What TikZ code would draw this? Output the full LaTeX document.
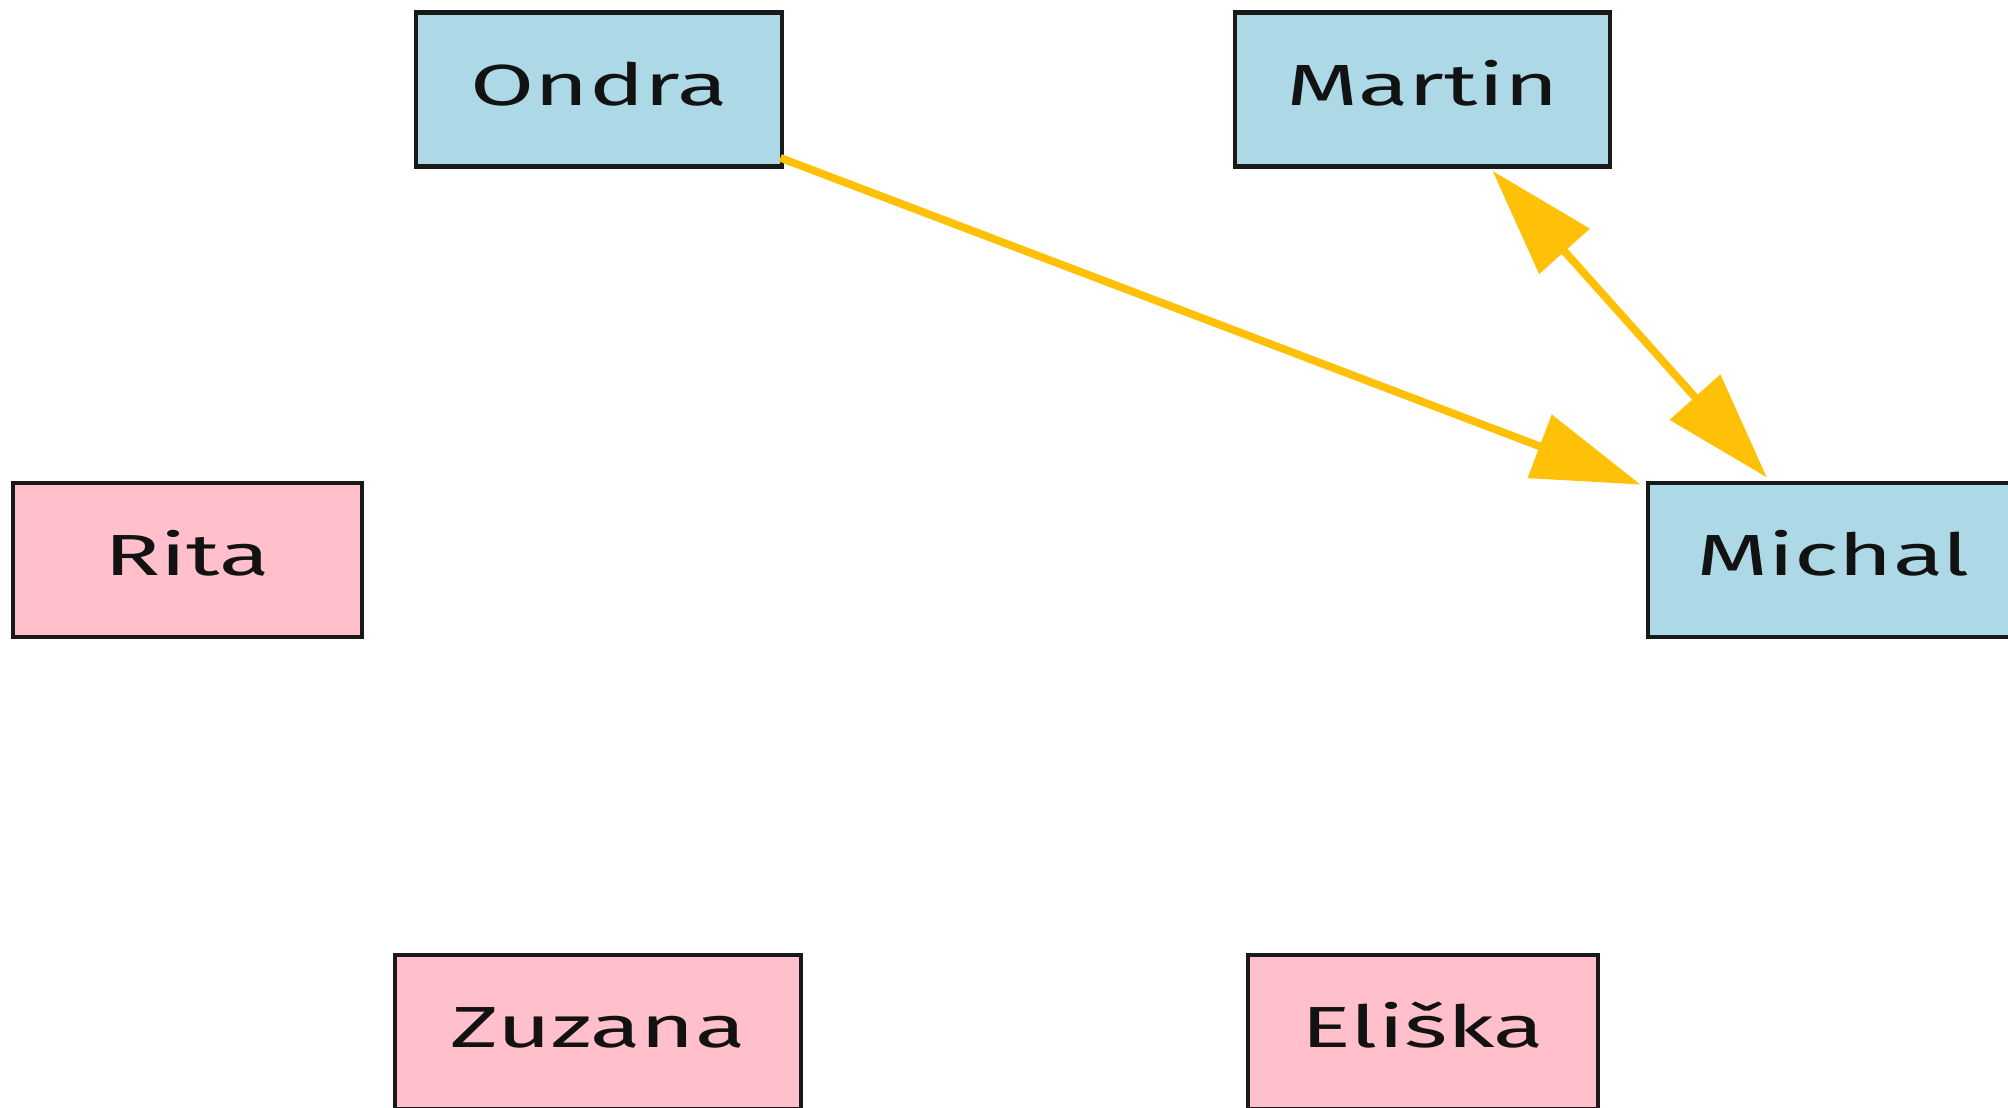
\documentclass[tikz,border=0pt]{standalone}
\usepackage{fontspec}
\newfontfamily\lblfont[FakeStretch=1.6]{Fira Sans}
\usetikzlibrary{arrows.meta}
\definecolor{boyfill}{HTML}{ADD8E6}
\definecolor{girlfill}{HTML}{FFC0CB}
\definecolor{amber}{HTML}{FFC107}
\tikzset{
  person/.style={draw=black!90, line width=2.4pt, rectangle, inner sep=0pt,
    minimum height=77pt, text height=21.5pt, text depth=6pt, text=black!93,
    font=\lblfont\fontsize{29}{30}\selectfont},
  boy/.style={person, fill=boyfill},
  girl/.style={person, fill=girlfill},
  conn/.style={draw=amber, line width=3.9pt, -{Triangle[length=54pt,width=33pt]}},
  bothconn/.style={draw=amber, line width=3.9pt, {Triangle[length=54pt,width=33pt]}-{Triangle[length=54pt,width=33pt]}}
}
\begin{document}
\begin{tikzpicture}[x=0.5pt,y=-0.5pt]
\useasboundingbox (0,0) rectangle (2008,1108);
\node[boy, minimum width=183pt] (ondra) at (599,89.5) {Ondra};
\node[boy, minimum width=187.5pt] (martin) at (1422.5,89.5) {Martin};
\node[girl, minimum width=174.5pt] (rita) at (187.5,560) {Rita};
\node[boy, minimum width=185pt] (michal) at (1833,560) {Michal};
\node[girl, minimum width=203pt] (zuzana) at (598,1032) {Zuzana};
\node[girl, minimum width=175pt] (eliska) at (1423,1032) {Eliška};
\draw[conn] ([shift={(-4,-11)}]ondra.south east) -- ([shift={(-5,4)}]michal.north west);
\draw[bothconn] ([shift={(70,2)}]martin.south) -- ([shift={(-66,-3)}]michal.north);
\end{tikzpicture}
\end{document}
